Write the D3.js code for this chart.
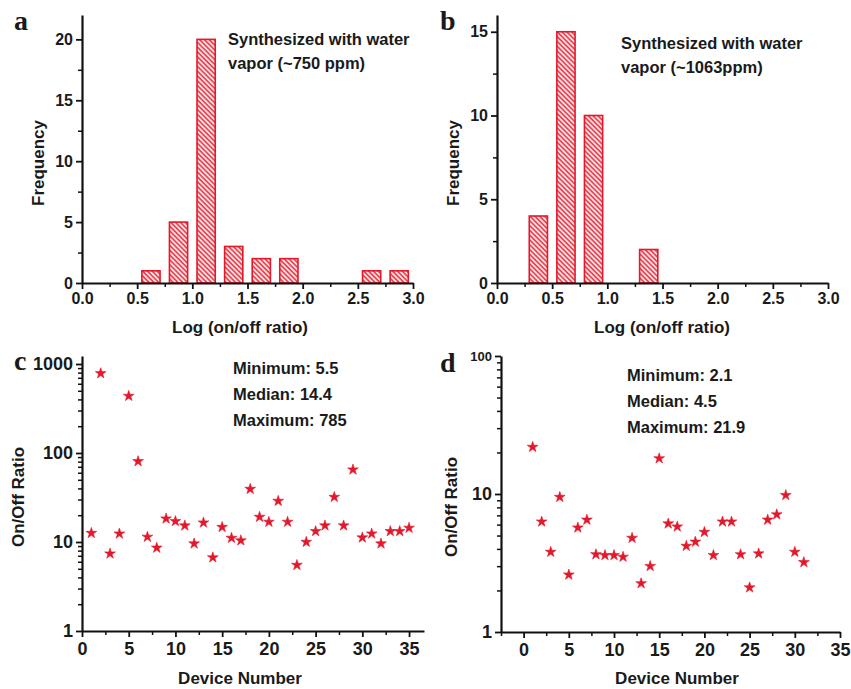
<!DOCTYPE html>
<html>
<head>
<meta charset="utf-8">
<script src="https://cdn.jsdelivr.net/npm/d3@7/dist/d3.min.js"></script>
<style>
  html, body { margin: 0; padding: 0; background: #fff; }
  svg { display: block; }
  text { fill: #1a1a1a; }
</style>
</head>
<body>
<svg id="fig" width="851" height="689"></svg>
<script>
// Histogram of log(on/off ratio): bin centres and counts
const binCentersA = [0.625, 0.875, 1.125, 1.375, 1.625, 1.875, 2.625, 2.875];
const countsA     = [1, 5, 20, 3, 2, 2, 1, 1];
const binCentersB = [0.375, 0.625, 0.875, 1.375];
const countsB     = [4, 15, 10, 2];
const binWidth = 0.25;

// On/off ratio for each device
const devicesC = d3.range(1, 36);
const ratiosC = [12.6, 785, 7.4, 12.4, 437, 80.6, 11.4, 8.6, 18.3, 17.1,
                 15.3, 9.6, 16.5, 6.7, 14.7, 11.1, 10.4, 39.4, 19.1, 16.8,
                 28.9, 16.8, 5.5, 10.0, 13.2, 15.3, 32.0, 15.3, 65.0, 11.2,
                 12.4, 9.6, 13.2, 13.2, 14.4];
const devicesD = d3.range(1, 32);
const ratiosD = [21.9, 6.3, 3.8, 9.5, 2.6, 5.7, 6.5, 3.65, 3.6, 3.6,
                 3.5, 4.8, 2.25, 3.0, 18.1, 6.1, 5.8, 4.2, 4.5, 5.3,
                 3.6, 6.3, 6.3, 3.65, 2.1, 3.7, 6.5, 7.1, 9.8, 3.8, 3.2];

// Text
const notesA = ["Synthesized with water", "vapor (~750 ppm)"];
const notesB = ["Synthesized with water", "vapor (~1063ppm)"];
const notesC = ["Minimum: 5.5", "Median: 14.4", "Maximum: 785"];
const notesD = ["Minimum: 2.1", "Median: 4.5", "Maximum: 21.9"];

const RED = "#e3192b";
const SANS = "'Liberation Sans', Arial, sans-serif";
const SERIF = "'Liberation Serif', 'Times New Roman', serif";
const svg = d3.select("#fig");

// diagonal hatch fill for the histogram bars
const defs = svg.append("defs");
const pat = defs.append("pattern")
  .attr("id", "hatch").attr("patternUnits", "userSpaceOnUse")
  .attr("width", 3.4).attr("height", 3.4)
  .attr("patternTransform", "rotate(-45)");
pat.append("rect").attr("width", 3.4).attr("height", 3.4).attr("fill", "#fbe1e3");
pat.append("line").attr("x1", 0.9).attr("y1", 0).attr("x2", 0.9).attr("y2", 3.4)
  .attr("stroke", RED).attr("stroke-width", 1.3);

function styleAxis(g) {
  g.select(".domain").attr("stroke", "#111").attr("stroke-width", 2.2);
  g.selectAll(".tick line").attr("stroke", "#111").attr("stroke-width", 1.8);
  g.selectAll(".tick text").attr("font-size", 16).attr("font-weight", "bold")
    .attr("fill", "#1a1a1a").style("font-family", SANS);
}

function minorTicks(g, axisGen) {
  g.call(axisGen);
  g.select(".domain").remove();
  g.selectAll(".tick text").remove();
  g.selectAll(".tick line").attr("stroke", "#111").attr("stroke-width", 1.5);
}

function panelLetter(x, y, s) {
  svg.append("text").attr("x", x).attr("y", y).text(s)
    .style("font-family", SERIF)
    .attr("font-weight", "bold").attr("font-size", 28);
}

function yTitle(x, y, s) {
  svg.append("text").attr("transform", `translate(${x},${y}) rotate(-90)`)
    .attr("text-anchor", "middle").attr("font-size", 17).attr("font-weight", "bold")
    .style("font-family", SANS).text(s);
}
function xTitle(x, y, s) {
  svg.append("text").attr("x", x).attr("y", y).attr("text-anchor", "middle")
    .attr("font-size", 17).attr("font-weight", "bold").style("font-family", SANS).text(s);
}
function notes(x, y, dy, lines) {
  lines.forEach((s, i) => svg.append("text").attr("x", x).attr("y", y + i * dy)
    .attr("font-size", 16.5).attr("font-weight", "bold").style("font-family", SANS).text(s));
}

// ---------- histogram panels ----------
function histogram(opt) {
  const x = d3.scaleLinear().domain([0, 3]).range(opt.xr);
  const y = d3.scaleLinear().domain([0, opt.ymax]).range([opt.y0, opt.y1]);
  const g = svg.append("g");

  g.selectAll("rect.bar").data(opt.centers).join("rect")
    .attr("class", "bar")
    .attr("x", d => x(d - binWidth * 0.33))
    .attr("width", d => x(d + binWidth * 0.33) - x(d - binWidth * 0.33))
    .attr("y", (d, i) => y(opt.counts[i]))
    .attr("height", (d, i) => y(0) - y(opt.counts[i]))
    .attr("fill", "url(#hatch)").attr("stroke", RED).attr("stroke-width", 1.6);

  g.append("g").attr("transform", `translate(0,${opt.y0})`)
    .call(gg => minorTicks(gg, d3.axisBottom(x).tickValues(d3.range(0.25, 3, 0.5)).tickSize(4)));
  g.append("g").attr("transform", `translate(${opt.xr[0]},0)`)
    .call(gg => minorTicks(gg, d3.axisLeft(y).tickValues(d3.range(2.5, opt.ymax, 5)).tickSize(4)));

  g.append("g").attr("transform", `translate(0,${opt.y0})`)
    .call(d3.axisBottom(x).tickValues(d3.range(0, 3.01, 0.5)).tickFormat(d3.format(".1f"))
      .tickSize(6).tickSizeOuter(0).tickPadding(4))
    .call(styleAxis);
  g.append("g").attr("transform", `translate(${opt.xr[0]},0)`)
    .call(d3.axisLeft(y).tickValues(opt.yticks).tickSize(6).tickSizeOuter(0).tickPadding(3))
    .call(styleAxis);
}

histogram({ xr: [82, 413], y0: 283, y1: 15, ymax: 22, yticks: [0, 5, 10, 15, 20],
            centers: binCentersA, counts: countsA });
histogram({ xr: [497, 828], y0: 283, y1: 15, ymax: 16, yticks: [0, 5, 10, 15],
            centers: binCentersB, counts: countsB });

panelLetter(14, 30, "a");
panelLetter(440, 30, "b");
yTitle(44, 163, "Frequency");
yTitle(459, 163, "Frequency");
xTitle(240, 333, "Log (on/off ratio)");
xTitle(662, 333, "Log (on/off ratio)");
notes(228, 45, 24, notesA);
notes(621, 49, 24, notesB);

// ---------- device scatter panels ----------
function scatter(opt) {
  const x = d3.scaleLinear().domain(opt.xd).range(opt.xr);
  const y = d3.scaleLog().domain(opt.yd).range([opt.y0, opt.y1]);
  const g = svg.append("g");

  const minorY = [];
  for (let dec = 1; dec < opt.yd[1]; dec *= 10)
    for (let k = 2; k <= 9; k++) if (dec * k <= opt.yd[1]) minorY.push(dec * k);

  g.append("g").attr("transform", `translate(0,${opt.y0})`)
    .call(gg => minorTicks(gg, d3.axisBottom(x).tickValues(opt.xminor).tickSize(4)));
  g.append("g").attr("transform", `translate(${opt.xr[0]},0)`)
    .call(gg => minorTicks(gg, d3.axisLeft(y).tickValues(minorY).tickSize(4)));

  g.append("g").attr("transform", `translate(0,${opt.y0})`)
    .call(d3.axisBottom(x).tickValues(d3.range(0, 35.1, 5)).tickFormat(d3.format("d"))
      .tickSize(6).tickSizeOuter(0).tickPadding(5))
    .call(styleAxis)
    .call(gg => gg.selectAll(".tick text").attr("font-size", 18));
  const ya = g.append("g").attr("transform", `translate(${opt.xr[0]},0)`)
    .call(d3.axisLeft(y).tickValues(opt.yticks).tickFormat(d3.format("d"))
      .tickSize(6).tickSizeOuter(0).tickPadding(3))
    .call(styleAxis)
    .call(gg => gg.selectAll(".tick text").attr("font-size", 18));
  if (opt.smallTop) ya.selectAll(".tick text").filter(d => d === opt.yd[1]).attr("font-size", 13);

  const star = d3.symbol().type(d3.symbolStar).size(36);
  g.selectAll("path.pt").data(opt.devices).join("path")
    .attr("class", "pt")
    .attr("transform", (d, i) => `translate(${x(d)},${y(opt.ratios[i])})`)
    .attr("d", star).attr("fill", RED).attr("stroke", RED).attr("stroke-width", 0.6);
}

scatter({ xd: [0, 36.6], xr: [82, 424], yd: [1, 1230], y0: 631, y1: 356,
          yticks: [1, 10, 100, 1000], xminor: d3.range(2.5, 36, 5),
          devices: devicesC, ratios: ratiosC });
scatter({ xd: [-2.5, 35], xr: [501, 840], yd: [1, 100], y0: 632, y1: 356,
          yticks: [1, 10, 100], xminor: d3.range(-2.5, 35, 5), smallTop: true,
          devices: devicesD, ratios: ratiosD });

panelLetter(14, 370, "c");
panelLetter(440, 372, "d");
yTitle(24, 497, "On/Off Ratio");
yTitle(457, 507, "On/Off Ratio");
xTitle(240, 684, "Device Number");
xTitle(677, 684, "Device Number");
notes(233, 374, 26, notesC);
notes(627, 381, 26, notesD);
</script>
</body>
</html>
